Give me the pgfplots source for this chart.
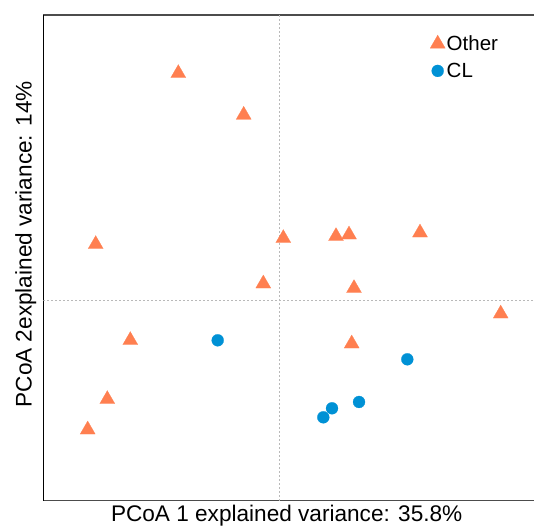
\documentclass[border=0pt]{standalone}
\usepackage{fontspec}
\setmainfont{Liberation Sans}
\usepackage{pgfplots}
\pgfplotsset{compat=1.18}
\definecolor{other}{RGB}{255,127,80}
\definecolor{cl}{RGB}{0,145,213}
\pgfplotsset{mark legend/.style={legend image code/.code={\draw[##1] plot coordinates {(0pt,0pt)};}}}
\begin{document}
\begin{tikzpicture}
\path[use as bounding box] (0,0) rectangle (534pt,526pt);
\begin{axis}[
    at={(43.3pt,25.3pt)}, anchor=south west,
    scale only axis, width=490.7pt, height=485.7pt,
    xmin=-0.236, xmax=0.2547, ymin=-0.2004, ymax=0.2853,
    axis x line=box, axis y line=left,
    x axis line style={black!70, line width=1.2pt},
    y axis line style={black, line width=1.2pt, -},
    xtick=\empty, ytick=\empty,
    xlabel={PCoA 1 explained variance: 35.8\%},
    ylabel={PCoA 2explained variance: 14\%},
    every axis x label/.style={at={(axis description cs:0.496,-0.009)}, anchor=north, inner sep=0pt, font=\fontsize{22.6}{26}\selectfont},
    every axis y label/.style={at={(axis description cs:-0.014,0.528)}, anchor=south, rotate=90, inner sep=0pt, font=\fontsize{22.6}{26}\selectfont},
    legend style={draw=none, fill=none, at={(axis description cs:0.788,0.961)}, anchor=north west,
        inner sep=0pt, row sep=8pt, font=\fontsize{20.5}{24}\selectfont,
        nodes={inner sep=1.5pt}},
    legend cell align=left,
]
\addplot[forget plot, gray!55, line width=0.8pt, dash pattern=on 2pt off 2pt] coordinates {(0,-0.2004) (0,0.2853)};
\addplot[forget plot, gray!55, line width=0.8pt, dash pattern=on 2pt off 2pt] coordinates {(-0.236,0) (0.2547,0)};

\addplot[only marks, color=other, mark=triangle*, mark size=8.7pt, mark options={fill=other, draw=other, line width=0.2pt}, mark legend]
    coordinates {
    (-0.101,0.227) (-0.0356,0.1853) (-0.1836,0.056) (0.004,0.062)
    (-0.016,0.0166) (0.0567,0.064) (0.0697,0.0656) (0.1407,0.0676)
    (0.0747,0.012) (0.2214,-0.0135) (-0.149,-0.040) (0.0724,-0.0434)
    (-0.172,-0.099) (-0.1916,-0.1294)
    };
\addlegendentry{Other}
\addplot[only marks, color=cl, mark=*, mark size=6pt, mark options={fill=cl, draw=cl, line width=0.2pt}, mark legend]
    coordinates {
    (-0.0616,-0.040) (0.128,-0.059) (0.0797,-0.1017) (0.0527,-0.108) (0.044,-0.117)
    };
\addlegendentry{CL}
\end{axis}
\end{tikzpicture}
\end{document}
